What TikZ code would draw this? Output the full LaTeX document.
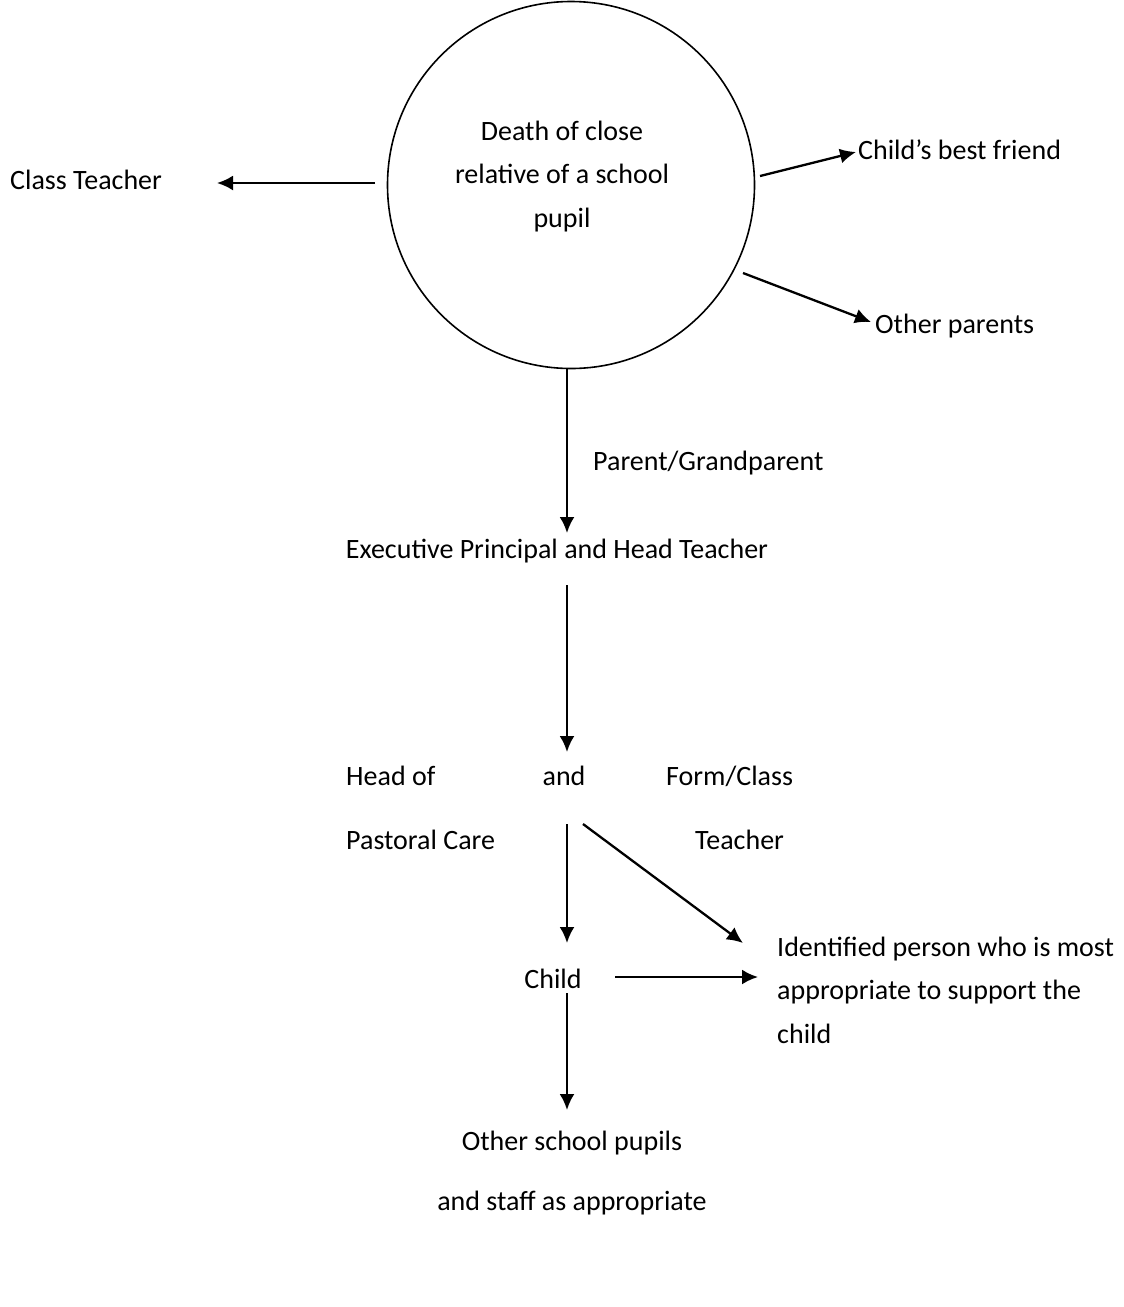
\documentclass[tikz,border=0pt]{standalone}
\usepackage{fontspec}
\setmainfont{Carlito}
\usetikzlibrary{arrows.meta}
\begin{document}
\begin{tikzpicture}[x=1pt,y=-1pt,
  lbl/.style={inner sep=0pt,font=\fontsize{28}{43.5}\selectfont},
  conn/.style={line width=2.3pt,-{Latex[length=16pt,width=15pt]}}]
\useasboundingbox (0,0) rectangle (1124,1307);
% circle
\node[draw,line width=1.6pt,circle,minimum size=367pt,inner sep=0pt] (circ) at (571,185) {};
\node[lbl,align=center,anchor=base] (death) at (562,227) {Death of close\\relative of a school\\pupil};
% labels
\node[lbl,anchor=base west] (ct) at (10,189) {Class Teacher};
\node[lbl,anchor=base west] (bf) at (858,159) {Child’s best friend};
\node[lbl,anchor=base west] (op) at (875,333) {Other parents};
\node[lbl,anchor=base west] (pg) at (593,470) {Parent/Grandparent};
\node[lbl,anchor=base] (ep) at (557,558) {Executive Principal and Head Teacher};
\node[lbl,anchor=base west] (ho) at (346,785) {Head of};
\node[lbl,anchor=base] (and) at (564,785) {and};
\node[lbl,anchor=base west] (fc) at (666,785) {Form/Class};
\node[lbl,anchor=base west] (pc) at (346,849) {Pastoral Care};
\node[lbl,anchor=base west] (te) at (695,849) {Teacher};
\node[lbl,anchor=base] (child) at (553,988) {Child};
\node[lbl,anchor=base west,align=left] (ip) at (777,1043) {Identified person who is most\\appropriate to support the\\child};
\node[lbl,anchor=base] (osp) at (572,1150) {Other school pupils};
\node[lbl,anchor=base] (staff) at (572,1210) {and staff as appropriate};
% connector ends
\coordinate (a1s) at (375,183); \coordinate (a1e) at (217,183);
\coordinate (a2s) at (760,176); \coordinate (a2e) at (856,152);
\coordinate (a3s) at (743,273); \coordinate (a3e) at (871,322);
\coordinate (a4s) at (567,368); \coordinate (a4e) at (567,533);
\coordinate (a5s) at (567,585); \coordinate (a5e) at (567,752);
\coordinate (a6s) at (567,824); \coordinate (a6e) at (567,943);
\coordinate (a7s) at (583,824); \coordinate (a7e) at (743,943);
\coordinate (a8s) at (615,977); \coordinate (a8e) at (758,977);
\coordinate (a9s) at (567,993); \coordinate (a9e) at (567,1110);
\draw[conn] (a1s) -- (a1e);
\draw[conn] (a2s) -- (a2e);
\draw[conn] (a3s) -- (a3e);
\draw[conn] (a4s) -- (a4e);
\draw[conn] (a5s) -- (a5e);
\draw[conn] (a6s) -- (a6e);
\draw[conn] (a7s) -- (a7e);
\draw[conn] (a8s) -- (a8e);
\draw[conn] (a9s) -- (a9e);
\end{tikzpicture}
\end{document}
